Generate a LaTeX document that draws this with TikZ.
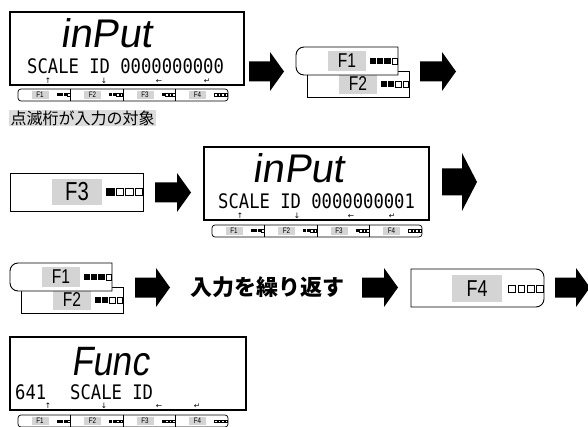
\documentclass[tikz,border=0pt]{standalone}
\usepackage{fontspec}
\setmainfont{Liberation Sans}
\newfontfamily\cjk{Noto Sans CJK JP}
\newfontfamily\symf{DejaVu Sans}
\newfontfamily\rowfont[FakeStretch=0.86]{DejaVu Sans Mono}
\newfontfamily\segfont[FakeSlant=0.15]{Liberation Sans}
\newfontfamily\segfontn[FakeSlant=0.15,FakeStretch=0.85]{Liberation Sans}
\newfontfamily\flabfont[FakeStretch=0.78]{Liberation Sans}
\definecolor{labgray}{HTML}{D4D4D4}
\definecolor{capgray}{HTML}{DCDCDC}

\tikzset{
  lcdframe/.style={draw, line width=1.4},
  boxframe/.style={draw, line width=0.9, fill=white},
  striplab/.style={fill=labgray, inner sep=0, minimum width=17, minimum height=8.5, font=\flabfont\fontsize{8}{8}\selectfont},
  flab/.style={fill=labgray, inner sep=0, text=black},
  bigseg/.style={inner sep=0, anchor=base},
  segrow/.style={font=\rowfont\fontsize{20}{20}\selectfont, inner sep=0, anchor=base west},
  keyarrow/.style={font=\symf\fontsize{7.5}{7.5}\selectfont, inner sep=0, anchor=base},
}

% row of four small squares: right x, centre y, size, pitch, filled count, line width
\newcommand\sqrow[6]{%
  \foreach \k in {1,2,3,4}{%
    \pgfmathsetmacro\sqr{#1-(4-\k)*#4}%
    \ifnum\k>#5\relax
      \draw[line width=#6] (\sqr-#3+#6/2,#2-#3/2+#6/2) rectangle (\sqr-#6/2,#2+#3/2-#6/2);
    \else
      \fill (\sqr-#3,#2-#3/2) rectangle (\sqr,#2+#3/2);
    \fi}}

% block arrow: x0, centre y, length, height, shaft height, head length
\newcommand\barrow[6]{%
  \fill (#1,#2-#5/2) -- (#1+#3-#6,#2-#5/2) -- (#1+#3-#6,#2-#4/2) -- (#1+#3,#2)
    -- (#1+#3-#6,#2+#4/2) -- (#1+#3-#6,#2+#5/2) -- (#1,#2+#5/2) -- cycle;}

% box with rounded left corners: x0,y0,x1,y1,r
\newcommand\lbox[5]{%
  \draw[boxframe] (#3,#2) -- (#1+#5,#2) .. controls (#1+0.448*#5,#2) and (#1,#2+0.448*#5) .. (#1,#2+#5)
    -- (#1,#4-#5) .. controls (#1,#4-0.448*#5) and (#1+0.448*#5,#4) .. (#1+#5,#4) -- (#3,#4) -- cycle;}
% box with rounded right corners
\newcommand\rbox[5]{%
  \draw[boxframe] (#1,#2) -- (#3-#5,#2) .. controls (#3-0.448*#5,#2) and (#3,#2+0.448*#5) .. (#3,#2+#5)
    -- (#3,#4-#5) .. controls (#3,#4-0.448*#5) and (#3-0.448*#5,#4) .. (#3-#5,#4) -- (#1,#4) -- cycle;}

% function key strip under a display: left, top, prefix
\newcommand\keystrip[3]{%
  \begin{scope}[shift={(#1,#2)}]
    \draw[line width=0.7, rounded corners=3] (0,0) rectangle (210,12);
    \foreach \i/\n/\lab in {0/3/F1,1/2/F2,2/1/F3,3/0/F4}{%
      \ifnum\i>0 \draw[line width=0.7] (\i*52.5,0) -- (\i*52.5,12);\fi
      \node[striplab] (#3\lab) at (\i*52.5+22,6) {\lab};
      \sqrow{\i*52.5+52.2}{6}{3}{3.5}{\n}{0.45}
    }
  \end{scope}}

% arrows under a display row: prefix, x1..x4, baseline y
\newcommand\keyarrows[6]{%
  \node[keyarrow] (#1up) at (#2,#6) {↑};
  \node[keyarrow] (#1down) at (#3,#6) {↓};
  \node[keyarrow] (#1left) at (#4,#6) {←};
  \node[keyarrow] (#1enter) at (#5,#6) {↵};}

% F1 over F2 key pair: left, top, prefix
\newcommand\fpair[3]{%
  \begin{scope}[shift={(#1,#2)}]
    \draw[boxframe] (11,24) rectangle (113,50);
    \node[flab, minimum width=38, minimum height=20, font=\flabfont\fontsize{20}{20}\selectfont] (#3two) at (62,37) {F2};
    \sqrow{113}{37}{6.5}{7.3}{2}{0.7}
    \lbox{0}{0}{102}{28}{8}
    \node[flab, minimum width=38, minimum height=20, font=\flabfont\fontsize{20}{20}\selectfont] (#3one) at (51,14) {F1};
    \sqrow{102}{14}{6.5}{7.3}{3}{0.7}
  \end{scope}}

\begin{document}
\begin{tikzpicture}[x=1pt,y=-1pt]
\useasboundingbox (0,0) rectangle (588,427);

% ---------- display 1
\begin{scope}[shift={(10,12)}]
  \draw[lcdframe] (0,0) rectangle (234,73);
  \node[bigseg, font=\segfont\fontsize{40}{40}\selectfont] (d1word) at (96,36) {inPut};
  \node[segrow] (d1row) at (17,61.5) {SCALE ID 0000000000};
  \keyarrows{d1}{38}{94}{149}{197}{71.5}
\end{scope}
\keystrip{18}{89}{s1}
\node[fill=capgray, inner xsep=1.5, inner ysep=1, anchor=west, font=\cjk\fontsize{16}{16}\selectfont] (cap) at (9,118) {点滅桁が入力の対象};

\barrow{249}{71.5}{35}{39}{20}{14}
\fpair{296}{47}{ra}
\barrow{420}{71.5}{36}{39}{20}{14}

% ---------- row 2
\draw[boxframe] (10,173) rectangle (143,211);
\node[flab, minimum width=50, minimum height=26, font=\flabfont\fontsize{26}{26}\selectfont] (f3) at (77,192) {F3};
\sqrow{143}{192}{8.5}{9.5}{1}{0.8}
\barrow{155}{192.5}{36}{39}{20}{14}

\begin{scope}[shift={(204,147)}]
  \draw[lcdframe] (0,0) rectangle (225,73);
  \node[bigseg, font=\segfont\fontsize{40}{40}\selectfont] (d2word) at (94.5,36) {inPut};
  \node[segrow] (d2row) at (14,61.5) {SCALE ID 0000000001};
  \keyarrows{d2}{36}{93}{147}{188}{71.5}
\end{scope}
\keystrip{212}{225}{s2}
\barrow{442}{182}{35}{58}{27}{15}

% ---------- row 3
\fpair{10}{263}{rb}
\barrow{135}{287.5}{35}{39}{20}{14}
\node[font=\cjk\bfseries\fontsize{22}{22}\selectfont, inner sep=0] (rep) at (267.5,287.5) {入力を繰り返す};
\barrow{362}{287.5}{36}{39}{20}{14}
\rbox{411}{269}{544}{307}{8}
\node[flab, minimum width=50, minimum height=27, font=\flabfont\fontsize{23}{23}\selectfont] (f4) at (477,288.5) {F4};
\sqrow{543.5}{289}{7.5}{9.2}{0}{0.8}
\barrow{555}{287.5}{35}{39}{20}{14}

% ---------- display 3
\begin{scope}[shift={(10,337)}]
  \draw[lcdframe] (0,0) rectangle (236,73);
  \node[bigseg, font=\segfontn\fontsize{41}{41}\selectfont] (d3word) at (100,38) {Func};
  \node[segrow] (d3num) at (5,62) {641};
  \node[segrow] (d3row) at (60,62) {SCALE ID};
  \keyarrows{d3}{38}{94}{149}{187}{71.5}
\end{scope}
\keystrip{18}{415}{s3}
\end{tikzpicture}
\end{document}
